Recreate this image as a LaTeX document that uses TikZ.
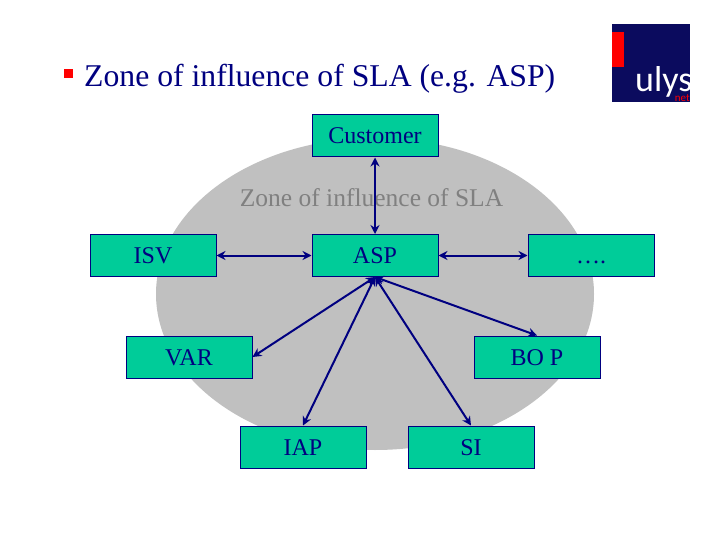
\documentclass[tikz,border=0pt]{standalone}
\usepackage{fontspec}
\setmainfont{Liberation Serif}
\newfontfamily\logofont{Carlito}
\usetikzlibrary{arrows.meta}
\definecolor{navyink}{HTML}{000080}
\definecolor{boxteal}{HTML}{00CC99}
\definecolor{zonegrey}{HTML}{C0C0C0}
\definecolor{zonetext}{HTML}{808080}
\definecolor{logonavy}{HTML}{0B0B5E}
\tikzset{
  boxnode/.style={draw=navyink,fill=boxteal,line width=1pt,minimum width=126pt,minimum height=42pt,inner sep=0pt,text=navyink,text height=16pt,text depth=0pt,font=\fontsize{24}{26}\selectfont},
  link/.style={draw=navyink,line width=2pt,{Stealth[length=9pt,width=9pt]}-{Stealth[length=9pt,width=9pt]}}
}
\begin{document}
\begin{tikzpicture}[x=1pt,y=-1pt]
\useasboundingbox[fill=white] (0,0) rectangle (720,540);
\fill[zonegrey] (375,294) ellipse [x radius=219,y radius=156];
\node[text=zonetext,font=\fontsize{25.5}{27}\selectfont] (zone) at (371.5,198) {Zone of influence of SLA};
\node[fill=red,minimum size=9pt,inner sep=0pt] (bullet) at (68,74) {};
\node[anchor=base west,text=navyink,font=\fontsize{31.7}{33}\selectfont,inner sep=0pt] (title) at (84,86.5) {Zone of influence of SLA (e.g. ASP)};
% logo
\fill[logonavy] (612,24) rectangle (690,102);
\fill[red] (612,32) rectangle (624,67);
\begin{scope}
\clip (612,24) rectangle (690,102);
\node[anchor=base west,text=white,inner sep=0pt,font=\logofont\fontsize{36}{38}\selectfont] (logo) at (635,92) {ulys};
\node[anchor=base east,text=red,inner sep=0pt,font=\logofont\fontsize{11}{12}\selectfont] (logonet) at (690,102) {net};
\end{scope}
\node[boxnode] (customer) at (375,136) {Customer};
\node[boxnode] (asp) at (375,255.5) {ASP};
\node[boxnode] (isv) at (153,255.5) {ISV};
\node[boxnode] (dots) at (591,255.5) {….};
\node[boxnode] (var) at (189,357) {VAR};
\node[boxnode] (bop) at (537,357) {BO P};
\node[boxnode] (iap) at (303,447) {IAP};
\node[boxnode] (si) at (471,447) {SI};
\draw[link] (customer) -- (asp);
\draw[link] (isv) -- (asp);
\draw[link] (asp) -- (dots);
\draw[link] (asp.south) -- (var.east);
\draw[link] (asp.south) -- (bop.north);
\draw[link] (asp.south) -- (iap.north);
\draw[link] (asp.south) -- (si.north);
\end{tikzpicture}
\end{document}
